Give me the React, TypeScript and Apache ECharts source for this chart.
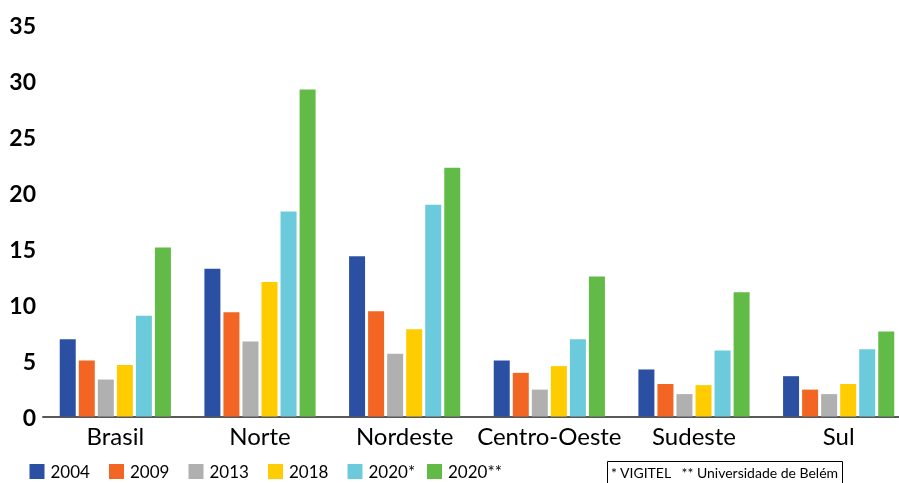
import React, { useEffect, useRef } from "react";
import * as echarts from "echarts";

const categories = ["Brasil", "Norte", "Nordeste", "Centro-Oeste", "Sudeste", "Sul"];
const seriesNames = ["2004", "2009", "2013", "2018", "2020*", "2020**"];
const values2004 = [6.9, 13.2, 14.3, 5.0, 4.2, 3.6];
const values2009 = [5.0, 9.3, 9.4, 3.9, 2.9, 2.4];
const values2013 = [3.3, 6.7, 5.6, 2.4, 2.0, 2.0];
const values2018 = [4.6, 12.0, 7.8, 4.5, 2.8, 2.9];
const values2020a = [9.0, 18.3, 18.9, 6.9, 5.9, 6.0];
const values2020b = [15.1, 29.2, 22.2, 12.5, 11.1, 7.6];
const colors = ["#2B50A3", "#F26522", "#B0B0B0", "#FFCC00", "#6BCADB", "#62BB46"];
const noteText = "* VIGITEL   ** Universidade de Belém";

export default function App() {
  const ref = useRef<HTMLDivElement>(null);
  useEffect(() => {
    if (!ref.current) return;
    const chart = echarts.init(ref.current, undefined, { renderer: "svg" });
    const allValues = [values2004, values2009, values2013, values2018, values2020a, values2020b];
    const font = "Lato, 'Open Sans', sans-serif";
    chart.setOption({
      animation: false,
      textStyle: { fontFamily: font },
      grid: { left: 43, top: 24.5, width: 868, bottom: 66.5, containLabel: false },
      legend: seriesNames.map((name, i) => ({
        left: 29.5 + i * 79.5,
        top: 463,
        padding: 0,
        itemWidth: 15,
        itemHeight: 15,
        itemGap: 0,
        icon: "rect",
        textStyle: { fontSize: 17, color: "#000", fontFamily: font, padding: [0, 0, 0, 1] },
        data: [name],
      })),
      xAxis: {
        type: "category",
        data: categories,
        axisLine: { lineStyle: { color: "#595959", width: 2 } },
        axisTick: { show: false },
        axisLabel: { color: "#000", fontSize: 24, margin: 7, interval: 0, fontFamily: font },
      },
      yAxis: {
        type: "value",
        min: 0,
        max: 35,
        interval: 5,
        axisLine: { show: false },
        axisTick: { show: false },
        splitLine: { show: false },
        axisLabel: { color: "#000", fontSize: 23, fontWeight: "bold", margin: 7, fontFamily: font },
      },
      series: seriesNames.map((name, i) => ({
        name,
        type: "bar",
        data: allValues[i],
        barWidth: 16,
        barGap: "19%",
        itemStyle: { color: colors[i] },
      })),
      graphic: [
        {
          type: "rect",
          shape: { x: 607.5, y: 461.5, width: 235, height: 30 },
          style: { fill: "#fff", stroke: "#000", lineWidth: 1 },
        },
        {
          type: "text",
          x: 611,
          y: 465.5,
          style: { text: noteText, fill: "#000", fontSize: 14, fontFamily: font },
        },
      ],
    });
    return () => chart.dispose();
  }, []);
  return (
    <div style={{ position: "fixed", left: 0, top: 0, width: 899, height: 483, overflow: "hidden" }}>
      <div ref={ref} style={{ width: 920, height: 483 }} />
    </div>
  );
}
